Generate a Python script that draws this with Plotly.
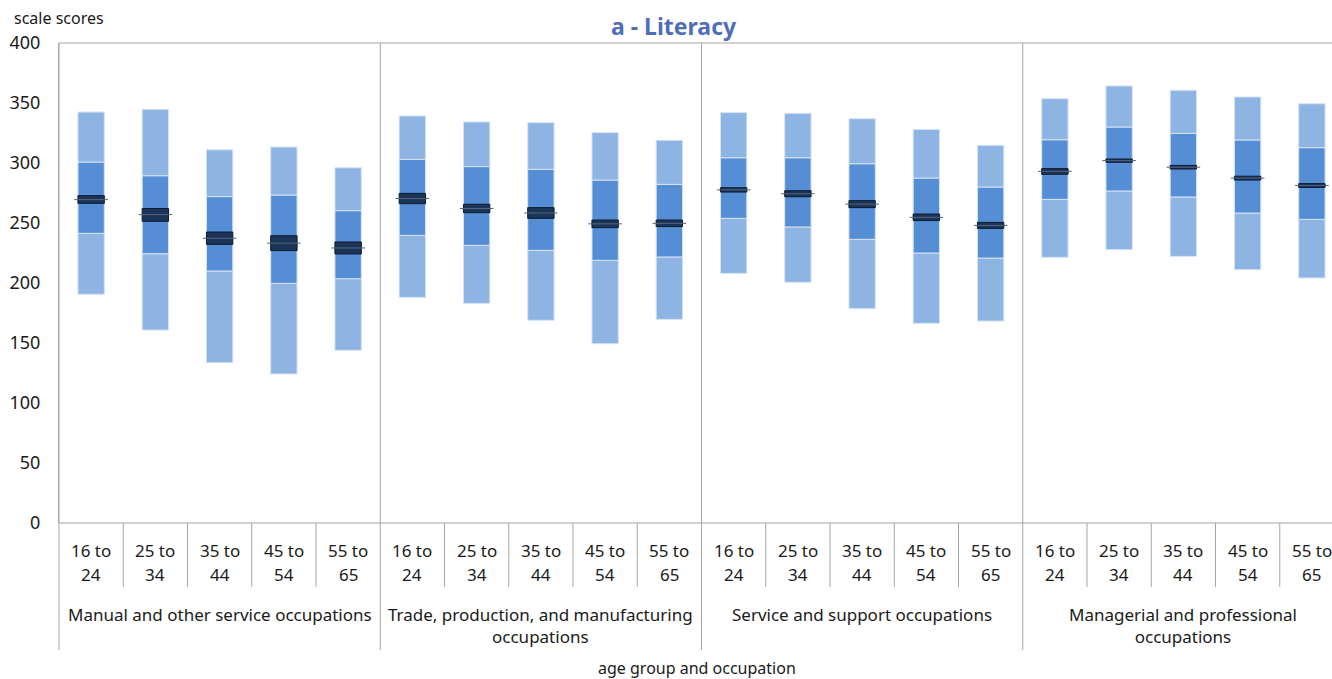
import plotly.graph_objects as go

# ---------------- data ----------------
groups = ["Manual and other service occupations",
          "Trade, production, and manufacturing<br>occupations",
          "Service and support occupations",
          "Managerial and professional<br>occupations"]
age_groups = [("16 to", "24"), ("25 to", "34"), ("35 to", "44"), ("45 to", "54"), ("55 to", "65")]

p5 = [190.6, 160.8, 133.6, 124.2, 143.9,
      188.0, 183.0, 168.9, 149.4, 169.7,
      208.0, 200.6, 178.6, 166.4, 168.3,
      221.4, 227.8, 222.2, 211.1, 204.2]
p25 = [241.4, 224.4, 210.0, 199.7, 203.6,
       239.7, 231.4, 227.2, 218.9, 221.7,
       253.9, 246.7, 236.4, 225.0, 220.8,
       269.7, 276.7, 271.7, 258.3, 253.0]
p75 = [300.8, 289.4, 272.0, 273.3, 260.3,
       303.0, 297.0, 294.7, 285.8, 282.2,
       304.4, 304.4, 299.4, 287.5, 280.0,
       319.4, 330.0, 324.7, 319.2, 312.8]
p95 = [342.5, 344.7, 311.0, 313.3, 296.0,
       339.2, 334.2, 333.6, 325.3, 318.9,
       342.0, 341.4, 336.9, 328.0, 314.7,
       353.6, 364.2, 360.6, 355.0, 349.4]
mean = [269.5, 257.0, 237.3, 233.2, 229.2,
        270.4, 262.1, 258.3, 249.3, 249.7,
        277.6, 274.4, 265.7, 254.7, 248.0,
        293.0, 302.0, 296.5, 287.4, 281.3]
ci_lo = [266.4, 251.4, 232.2, 227.0, 224.2,
         266.1, 258.6, 253.9, 246.1, 247.0,
         275.8, 271.9, 262.8, 252.0, 245.5,
         290.6, 300.6, 295.0, 285.8, 279.7]
ci_hi = [272.8, 262.0, 242.5, 239.4, 234.2,
         274.7, 265.6, 262.8, 252.5, 252.5,
         279.4, 276.9, 268.6, 257.5, 250.5,
         295.3, 303.3, 298.0, 289.0, 282.8]
y_ticks = [0, 50, 100, 150, 200, 250, 300, 350, 400]

# ---------------- layout constants ----------------
W, H = 1344, 679
L, R, T, B = 59, 0, 43, 156
PW, PH = W - L - R, H - T - B
n = len(p5)
per_group = len(age_groups)

def px_x(px):
    return (px - L) / PW

def px_y(py):
    return (H - B - py) / PH

LIGHT = "#8EB4E3"
MED = "#558ED5"
NAVY = "#1B3559"
EDGE = "#D5E3F5"
GRID = "#A6A6A6"
TXT = "#1A1A1A"
FONT = "Noto Sans"

xs = list(range(n))
bw = 0.41

fig = go.Figure()

def add_range(lo, hi, color, edge, ew):
    fig.add_trace(go.Bar(
        x=xs, base=lo, y=[h - l for l, h in zip(lo, hi)], width=bw,
        marker=dict(color=color, line=dict(color=edge, width=ew)),
        showlegend=False, hoverinfo="skip"))

add_range(p5, p25, LIGHT, EDGE, 1)
add_range(p25, p75, MED, EDGE, 1)
add_range(p75, p95, LIGHT, EDGE, 1)
add_range(ci_lo, ci_hi, NAVY, "#0C1A30", 1)

fig.add_trace(go.Scatter(
    x=xs, y=mean, mode="markers",
    marker=dict(symbol="line-ew", size=24, line=dict(color="#56647C", width=1)),
    showlegend=False, hoverinfo="skip"))

shapes = []
shapes.append(dict(type="line", xref="paper", yref="paper", x0=0, x1=1, y0=1, y1=1,
                   line=dict(color=GRID, width=1)))
shapes.append(dict(type="line", xref="paper", yref="paper", x0=0, x1=1, y0=0, y1=0,
                   line=dict(color=GRID, width=1)))
for k in range(n + 1):
    xp = k / n
    if k % per_group == 0:
        shapes.append(dict(type="line", xref="paper", yref="paper", x0=xp, x1=xp,
                           y0=px_y(650), y1=1, line=dict(color=GRID, width=1)))
    else:
        shapes.append(dict(type="line", xref="paper", yref="paper", x0=xp, x1=xp,
                           y0=px_y(587), y1=0, line=dict(color=GRID, width=1)))

def ann(x, y, text, xref="paper", size=17, color=TXT, xanchor="center", yanchor="middle"):
    return dict(x=x, xref=xref, y=y, yref="paper", text=text, showarrow=False,
                xanchor=xanchor, yanchor=yanchor, align="center",
                font=dict(size=size, color=color, family=FONT))

annotations = []
for i in range(n):
    a1, a2 = age_groups[i % per_group]
    annotations.append(ann(i, px_y(550), a1, xref="x"))
    annotations.append(ann(i, px_y(574), a2, xref="x"))
for g, name in enumerate(groups):
    xc = g * per_group + (per_group - 1) / 2
    annotations.append(ann(xc, px_y(601), name, xref="x", yanchor="top"))
annotations.append(ann(px_x(697), px_y(668), "age group and occupation", size=16))
annotations.append(ann(px_x(12), px_y(18), "scale scores", xanchor="left", size=16))
annotations.append(ann(px_x(674), px_y(26), "<b>a - Literacy</b>", size=23, color="#4F6EB7"))

fig.update_layout(
    width=W, height=H,
    margin=dict(l=L, r=R, t=T, b=B, pad=0, autoexpand=False),
    paper_bgcolor="white", plot_bgcolor="white",
    barmode="overlay",
    shapes=shapes, annotations=annotations,
    font=dict(family=FONT, size=16, color=TXT),
    xaxis=dict(range=[-0.5, n - 0.5], showticklabels=False, showgrid=False,
               zeroline=False, showline=False, ticks="", automargin=False),
    yaxis=dict(range=[0, 400], tickvals=y_ticks, showgrid=False, zeroline=False,
               showline=True, linecolor=GRID, linewidth=1, ticks="", automargin=False,
               ticklabelstandoff=14, tickfont=dict(size=18, family=FONT, color=TXT)),
)

fig.write_html("out.html", config={"displayModeBar": False},
               post_script="document.body.style.margin='0';"
                           "document.body.style.overflow='hidden';"
                           "document.documentElement.style.overflow='hidden';")
